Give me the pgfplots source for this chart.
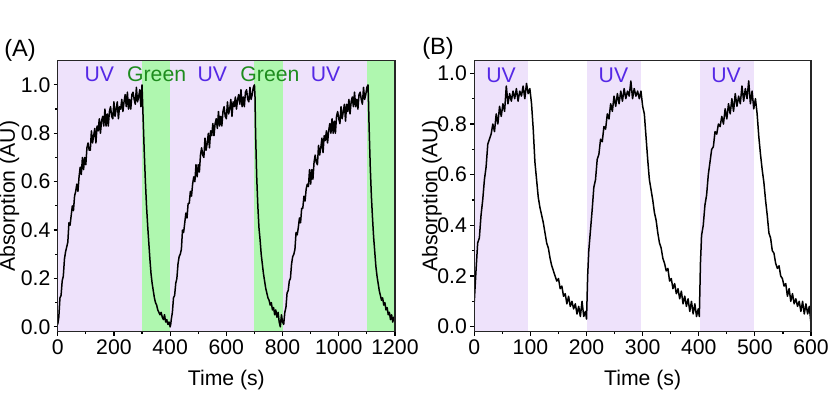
\documentclass[border=0pt]{standalone}
\usepackage{pgfplots}
\pgfplotsset{compat=1.18}
\usepackage{fontspec}
\setmainfont{Liberation Sans}

\definecolor{uvbg}{RGB}{238,226,251}
\definecolor{grbg}{RGB}{175,247,175}
\definecolor{uvtxt}{RGB}{85,40,230}
\definecolor{grtxt}{RGB}{30,140,30}

\pgfplotsset{
  kin/.style={
    scale only axis, height=135.5pt,
    ymin=-0.02,
    axis on top,
    font=\fontsize{10.6}{12}\selectfont,
    /pgf/number format/assume math mode=true,
    /pgf/number format/set thousands separator={},
    ytick={0,0.2,0.4,0.6,0.8,1.0},
    yticklabel style={inner sep=1.5pt, /pgf/number format/.cd, fixed, fixed zerofill, precision=1},
    xticklabel style={inner sep=2pt},
    minor x tick num=1, minor y tick num=1,
    tick align=outside,
    xtick pos=bottom, ytick pos=left,
    major tick length=2pt, minor tick length=1.2pt,
    every tick/.style={black, line width=0.6pt},
    axis line style={line width=0.7pt, black!85},
    xlabel={Time (s)}, ylabel={Absorption (AU)},
    every axis x label/.style={at={(axis description cs:0.5,-0.178)}, anchor=center},
  },
  sig/.style={black, line width=0.75pt, line join=round},
}

\begin{document}
\begin{tikzpicture}
\useasboundingbox (0,0) rectangle (415pt,198pt);

\node[font=\fontsize{11.8}{14}\selectfont] at (10pt,173pt) {(A)};
\node[font=\fontsize{11.8}{14}\selectfont] at (219pt,174pt) {(B)};

% ---------- (A) ----------
\begin{axis}[kin,
  at={(28.85pt,32.15pt)}, anchor=south west,
  width=168.65pt,
  xmin=0, xmax=1200, ymax=1.1,
  xtick={0,200,...,1200},
  every axis y label/.style={at={(axis description cs:-0.143,0.5)}, rotate=90, anchor=center},
]
% irradiation bands
\addplot[fill=uvbg, draw=none] coordinates {(0,-0.1) (300,-0.1) (300,1.2) (0,1.2)} -- cycle;
\addplot[fill=grbg, draw=none] coordinates {(300,-0.1) (400,-0.1) (400,1.2) (300,1.2)} -- cycle;
\addplot[fill=uvbg, draw=none] coordinates {(400,-0.1) (700,-0.1) (700,1.2) (400,1.2)} -- cycle;
\addplot[fill=grbg, draw=none] coordinates {(700,-0.1) (800,-0.1) (800,1.2) (700,1.2)} -- cycle;
\addplot[fill=uvbg, draw=none] coordinates {(800,-0.1) (1100,-0.1) (1100,1.2) (800,1.2)} -- cycle;
\addplot[fill=grbg, draw=none] coordinates {(1100,-0.1) (1200,-0.1) (1200,1.2) (1100,1.2)} -- cycle;

\addplot[sig] coordinates {
(0,0.01)(4,0.04)(8,0.12)(12,0.13)(16,0.19)(20,0.21)(24,0.28)(28,0.31)(32,0.33)(36,0.35)
(40,0.43)(44,0.42)(48,0.46)(52,0.50)(56,0.48)(60,0.54)(64,0.56)(68,0.59)(72,0.56)(76,0.62)
(80,0.66)(84,0.63)(88,0.70)(92,0.65)(96,0.70)(100,0.67)(104,0.74)(108,0.76)(112,0.73)(116,0.73)
(120,0.81)(124,0.76)(128,0.79)(132,0.82)(136,0.76)(140,0.83)(144,0.81)(148,0.86)(152,0.80)(156,0.85)
(160,0.87)(164,0.83)(168,0.90)(172,0.83)(176,0.88)(180,0.83)(184,0.89)(188,0.91)(192,0.87)(196,0.86)
(200,0.93)(204,0.87)(208,0.90)(212,0.93)(216,0.86)(220,0.91)(224,0.90)(228,0.94)(232,0.89)(236,0.93)
(240,0.96)(244,0.91)(248,0.97)(252,0.90)(256,0.94)(260,0.90)(264,0.96)(268,0.97)(272,0.94)(276,0.92)
(280,0.99)(284,0.93)(288,0.95)(292,0.98)(296,0.91)(300,1.00)(302,0.93)(304,0.86)(308,0.72)(312,0.60)
(316,0.50)(320,0.42)(324,0.35)(328,0.28)(332,0.22)(336,0.18)(340,0.15)(344,0.12)(348,0.10)(352,0.09)
(356,0.07)(360,0.06)(364,0.05)(368,0.06)(372,0.04)(376,0.03)(380,0.05)(384,0.02)(388,0.03)(392,0.01)
(396,0.02)(400,0.00)(402,0.01)(404,0.03)(408,0.06)(412,0.12)(416,0.13)(420,0.18)(424,0.20)(428,0.26)
(432,0.29)(436,0.30)(440,0.32)(444,0.40)(448,0.39)(452,0.43)(456,0.47)(460,0.45)(464,0.51)(468,0.51)
(472,0.56)(476,0.54)(480,0.59)(484,0.62)(488,0.60)(492,0.67)(496,0.62)(500,0.67)(504,0.64)(508,0.71)
(512,0.74)(516,0.71)(520,0.70)(524,0.78)(528,0.73)(532,0.76)(536,0.80)(540,0.74)(544,0.81)(548,0.79)
(552,0.84)(556,0.79)(560,0.84)(564,0.86)(568,0.82)(572,0.89)(576,0.83)(580,0.87)(584,0.83)(588,0.89)
(592,0.91)(596,0.87)(600,0.86)(604,0.93)(608,0.88)(612,0.90)(616,0.94)(620,0.87)(624,0.93)(628,0.91)
(632,0.95)(636,0.90)(640,0.94)(644,0.96)(648,0.92)(652,0.98)(656,0.91)(660,0.95)(664,0.91)(668,0.97)
(672,0.98)(676,0.94)(680,0.93)(684,0.99)(688,0.94)(692,0.96)(696,0.99)(700,1.00)(702,0.95)(704,0.80)
(708,0.62)(712,0.50)(716,0.41)(720,0.36)(724,0.30)(728,0.26)(732,0.22)(736,0.19)(740,0.16)(744,0.14)
(748,0.12)(752,0.11)(756,0.09)(760,0.10)(764,0.07)(768,0.08)(772,0.05)(776,0.07)(780,0.04)(784,0.06)
(788,0.02)(792,0.00)(796,0.05)(800,0.02)(804,0.01)(808,0.06)(812,0.08)(816,0.14)(820,0.15)(824,0.19)
(828,0.20)(832,0.26)(836,0.29)(840,0.30)(844,0.32)(848,0.39)(852,0.38)(856,0.41)(860,0.45)(864,0.43)
(868,0.49)(872,0.49)(876,0.54)(880,0.52)(884,0.57)(888,0.59)(892,0.58)(896,0.65)(900,0.59)(904,0.65)
(908,0.61)(912,0.68)(916,0.71)(920,0.68)(924,0.67)(928,0.75)(932,0.71)(936,0.74)(940,0.78)(944,0.72)
(948,0.79)(952,0.77)(956,0.81)(960,0.76)(964,0.81)(968,0.84)(972,0.80)(976,0.86)(980,0.80)(984,0.85)
(988,0.80)(992,0.87)(996,0.89)(1000,0.86)(1004,0.84)(1008,0.91)(1012,0.86)(1016,0.89)(1020,0.92)(1024,0.85)
(1028,0.92)(1032,0.89)(1036,0.94)(1040,0.88)(1044,0.93)(1048,0.95)(1052,0.91)(1056,0.97)(1060,0.91)(1064,0.94)
(1068,0.90)(1072,0.96)(1076,0.97)(1080,0.94)(1084,0.92)(1088,0.99)(1092,0.94)(1096,0.96)(1100,0.99)(1104,1.00)
(1106,0.92)(1108,0.82)(1112,0.66)(1116,0.54)(1120,0.45)(1124,0.37)(1128,0.31)(1132,0.25)(1136,0.21)(1140,0.18)
(1144,0.15)(1148,0.13)(1152,0.11)(1156,0.12)(1160,0.09)(1164,0.10)(1168,0.07)(1172,0.08)(1176,0.05)(1180,0.06)
(1184,0.03)(1188,0.05)(1192,0.02)(1196,0.04)(1200,0.02)
};

\node[text=uvtxt] at (axis cs:148,1.045) {UV};
\node[text=grtxt] at (axis cs:352,1.045) {Green};
\node[text=uvtxt] at (axis cs:550,1.045) {UV};
\node[text=grtxt] at (axis cs:755,1.045) {Green};
\node[text=uvtxt] at (axis cs:953,1.045) {UV};
\end{axis}

% ---------- (B) ----------
\begin{axis}[kin,
  at={(237.15pt,32.15pt)}, anchor=south west,
  width=168.35pt,
  xmin=0, xmax=600, ymax=1.05,
  xtick={0,100,...,600},
  every axis y label/.style={at={(axis description cs:-0.126,0.5)}, rotate=90, anchor=center},
]
\addplot[fill=uvbg, draw=none] coordinates {(0,-0.1) (96,-0.1) (96,1.2) (0,1.2)} -- cycle;
\addplot[fill=uvbg, draw=none] coordinates {(200,-0.1) (297,-0.1) (297,1.2) (200,1.2)} -- cycle;
\addplot[fill=uvbg, draw=none] coordinates {(402,-0.1) (498,-0.1) (498,1.2) (402,1.2)} -- cycle;

\addplot[sig] coordinates {
(0,0.10)(3,0.22)(6,0.33)(9,0.35)(12,0.44)(15,0.50)(18,0.58)(21,0.63)(24,0.72)(27,0.74)
(30,0.76)(33,0.80)(36,0.77)(39,0.84)(42,0.80)(45,0.87)(48,0.83)(51,0.88)(54,0.85)(57,0.95)
(60,0.88)(63,0.92)(66,0.89)(69,0.93)(72,0.90)(75,0.94)(78,0.89)(81,0.93)(84,0.91)(87,0.95)
(90,0.90)(93,0.96)(96,0.92)(99,0.94)(102,0.88)(105,0.78)(108,0.65)(111,0.58)(114,0.51)(117,0.47)
(120,0.44)(123,0.41)(126,0.37)(129,0.33)(132,0.31)(135,0.27)(138,0.24)(141,0.22)(144,0.20)(147,0.18)
(150,0.19)(153,0.15)(156,0.16)(159,0.12)(162,0.13)(165,0.09)(168,0.12)(171,0.08)(174,0.10)(177,0.07)
(180,0.09)(183,0.05)(186,0.08)(189,0.04)(192,0.10)(195,0.04)(198,0.06)(200,0.03)(202,0.20)(204,0.30)
(207,0.38)(210,0.46)(213,0.55)(216,0.58)(219,0.66)(222,0.68)(225,0.74)(228,0.73)(231,0.79)(234,0.78)
(237,0.84)(240,0.82)(243,0.88)(246,0.85)(249,0.91)(252,0.87)(255,0.92)(258,0.88)(261,0.93)(264,0.89)
(267,0.94)(270,0.90)(273,0.93)(276,0.91)(279,0.97)(282,0.90)(285,0.94)(288,0.91)(291,0.93)(294,0.90)
(297,0.93)(300,0.87)(303,0.84)(306,0.75)(309,0.66)(312,0.58)(315,0.54)(318,0.50)(321,0.45)(324,0.42)
(327,0.37)(330,0.33)(333,0.31)(336,0.27)(339,0.25)(342,0.22)(345,0.23)(348,0.18)(351,0.19)(354,0.15)
(357,0.17)(360,0.13)(363,0.15)(366,0.11)(369,0.14)(372,0.09)(375,0.12)(378,0.08)(381,0.11)(384,0.06)
(387,0.10)(390,0.05)(393,0.09)(396,0.04)(399,0.07)(401,0.04)(403,0.25)(405,0.36)(408,0.40)(411,0.48)
(414,0.52)(417,0.60)(420,0.65)(423,0.70)(426,0.71)(429,0.77)(432,0.76)(435,0.80)(438,0.79)(441,0.83)
(444,0.80)(447,0.86)(450,0.82)(453,0.88)(456,0.84)(459,0.90)(462,0.85)(465,0.92)(468,0.87)(471,0.91)
(474,0.88)(477,0.95)(480,0.89)(483,0.94)(486,0.90)(489,0.97)(492,0.88)(495,0.93)(498,0.86)(501,0.90)
(504,0.84)(507,0.75)(510,0.68)(513,0.62)(516,0.57)(519,0.50)(522,0.44)(525,0.37)(528,0.35)(531,0.30)
(534,0.29)(537,0.25)(540,0.23)(543,0.24)(546,0.20)(549,0.19)(552,0.16)(555,0.17)(558,0.12)(561,0.15)
(564,0.10)(567,0.13)(570,0.09)(573,0.11)(576,0.08)(579,0.10)(582,0.06)(585,0.10)(588,0.05)(591,0.09)
(594,0.05)(597,0.08)(600,0.01)
};

\node[text=uvtxt] at (axis cs:47.6,0.994) {UV};
\node[text=uvtxt] at (axis cs:248,0.994) {UV};
\node[text=uvtxt] at (axis cs:448.5,0.994) {UV};
\end{axis}
\end{tikzpicture}
\end{document}
